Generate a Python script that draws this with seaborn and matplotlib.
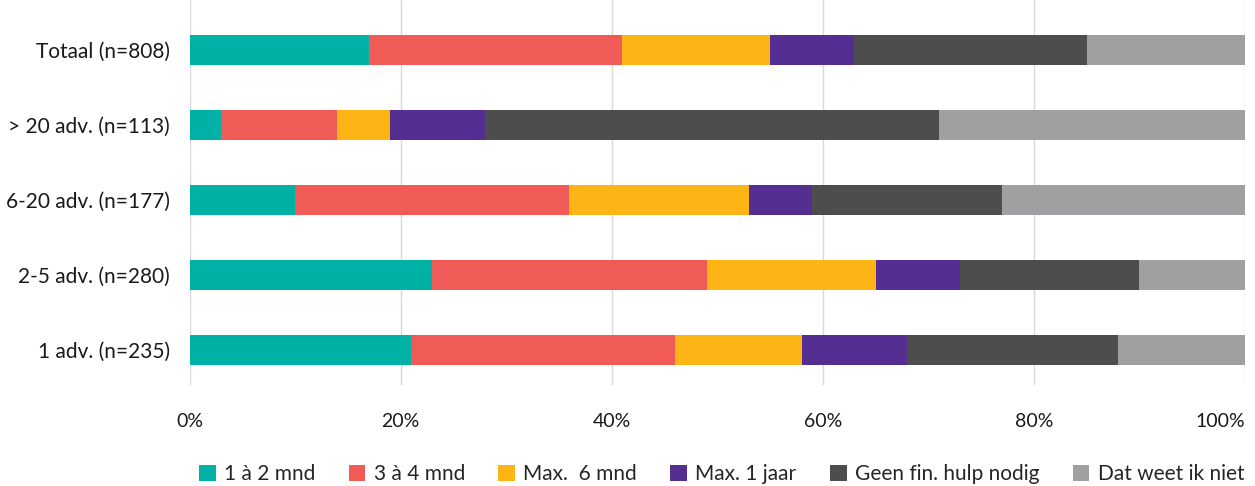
import numpy as np
import pandas as pd
import matplotlib.pyplot as plt
import seaborn as sns
from matplotlib.patches import Patch

categories = ["Totaal (n=808)", "> 20 adv. (n=113)", "6-20 adv. (n=177)",
              "2-5 adv. (n=280)", "1 adv. (n=235)"]
series = ["1 à 2 mnd", "3 à 4 mnd", "Max.  6 mnd", "Max. 1 jaar",
          "Geen fin. hulp nodig", "Dat weet ik niet"]

een_twee_mnd = [17, 3, 10, 23, 21]
drie_vier_mnd = [24, 11, 26, 26, 25]
max_zes_mnd = [14, 5, 17, 16, 12]
max_een_jaar = [8, 9, 6, 8, 10]
geen_hulp = [22, 43, 18, 17, 20]
weet_niet = [15, 29, 23, 10, 12]

colors = ["#00B2A5", "#F05A57", "#FDB515", "#542E91", "#4D4D4D", "#A0A0A3"]

values = [een_twee_mnd, drie_vier_mnd, max_zes_mnd, max_een_jaar, geen_hulp, weet_niet]

df = pd.DataFrame({s: v for s, v in zip(series, values)}, index=categories)
cum = df.cumsum(axis=1)

sns.set_style("white")
plt.rcParams["font.family"] = ["Lato", "DejaVu Sans"]

fig, ax = plt.subplots(figsize=(12.55, 4.86), dpi=100)

# draw the cumulative totals from the largest down so each segment shows
for s, c in zip(reversed(series), reversed(colors)):
    sns.barplot(x=cum[s].values, y=categories, color=c, orient="h",
                width=0.4, ax=ax, saturation=1, linewidth=0, zorder=3)

ax.set_xlim(0, 100)
ax.set_ylim(4.47, -0.67)
ax.set_xticks(np.arange(0, 101, 20))
ax.set_xticklabels([f"{t}%" for t in range(0, 101, 20)])
ax.get_xticklabels()[-1].set_horizontalalignment("right")
ax.xaxis.grid(True, color="#D9D9D9", linewidth=1, zorder=0)
ax.set_axisbelow(True)
for sp in ax.spines.values():
    sp.set_visible(False)
ax.tick_params(axis="x", length=0, pad=20, labelsize=14, labelcolor="#1a1a1a")
ax.tick_params(axis="y", length=0, pad=14, labelsize=15, labelcolor="#1a1a1a")
ax.set_xlabel("")
ax.set_ylabel("")

handles = [Patch(facecolor=c, edgecolor="none") for c in colors]
fig.legend(handles, series, loc="lower center", ncol=6, frameon=False,
           fontsize=15, bbox_to_anchor=(0.575, -0.035), handlelength=0.8,
           handleheight=0.8, handletextpad=0.4, columnspacing=1.6)

fig.subplots_adjust(left=0.151, right=0.992, top=1.0, bottom=0.208)
fig.savefig("out.png", dpi=100)
